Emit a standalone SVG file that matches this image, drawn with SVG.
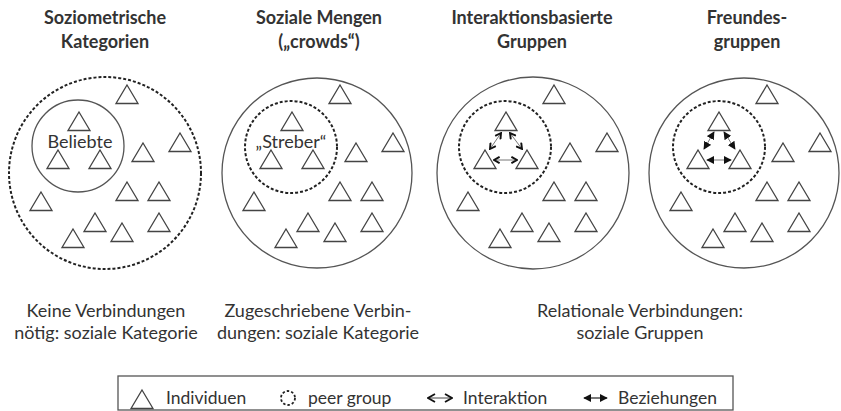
<svg xmlns="http://www.w3.org/2000/svg" xmlns:xlink="http://www.w3.org/1999/xlink" width="841" height="411" viewBox="0 0 841 411">
<style>
  text { font-family: Lato, "Open Sans", "Liberation Sans", sans-serif; fill: #333; }
  .title { font-size: 18px; font-weight: bold; text-anchor: middle; }
  .cap { font-size: 18px; text-anchor: middle; }
  .leg { font-size: 17.5px; }
  .lbl { font-size: 18px; text-anchor: middle; }
  .tri { fill: #fff; stroke: #444; stroke-width: 1.3; }
  .outer { fill: none; stroke: #555; stroke-width: 1.3; }
  .solid { fill: none; stroke: #555; stroke-width: 1.3; }
  .dash { fill: none; stroke: #222; stroke-width: 2; stroke-dasharray: 3 2; }
  .shaft { stroke: #777; stroke-width: 1; fill: none; }
  .ia { marker-start: url(#open); marker-end: url(#open); }
  .bz { marker-start: url(#filled); marker-end: url(#filled); }
</style>
<defs>
  <path id="tri" d="M0,0 L11,18.5 L-11,18.5 Z"/>
  <marker id="open" viewBox="0 0 10 10" refX="9" refY="5" markerWidth="8" markerHeight="8" markerUnits="userSpaceOnUse" orient="auto-start-reverse">
    <path d="M2,1 L9,5 L2,9" fill="none" stroke="#111" stroke-width="2.4"/>
  </marker>
  <marker id="filled" viewBox="0 0 10 10" refX="9" refY="5" markerWidth="8" markerHeight="8" markerUnits="userSpaceOnUse" orient="auto-start-reverse">
    <path d="M0,0 L10,5 L0,10 Z" fill="#111"/>
  </marker>
  <marker id="openL" viewBox="0 0 10 10" refX="9" refY="5" markerWidth="10" markerHeight="10" markerUnits="userSpaceOnUse" orient="auto-start-reverse">
    <path d="M2,1 L9,5 L2,9" fill="none" stroke="#111" stroke-width="1.8"/>
  </marker>
  <marker id="filledL" viewBox="0 0 10 10" refX="9" refY="5" markerWidth="8" markerHeight="8" markerUnits="userSpaceOnUse" orient="auto-start-reverse">
    <path d="M0,0 L10,5 L0,10 Z" fill="#111"/>
  </marker>
  <g id="crowd">
    <use xlink:href="#tri" href="#tri" class="tri" x="127" y="85"/>
    <use xlink:href="#tri" href="#tri" class="tri" x="79" y="112"/>
    <use xlink:href="#tri" href="#tri" class="tri" x="58" y="150"/>
    <use xlink:href="#tri" href="#tri" class="tri" x="100" y="150"/>
    <use xlink:href="#tri" href="#tri" class="tri" x="143" y="143"/>
    <use xlink:href="#tri" href="#tri" class="tri" x="180" y="133"/>
    <use xlink:href="#tri" href="#tri" class="tri" x="127" y="182"/>
    <use xlink:href="#tri" href="#tri" class="tri" x="159" y="182"/>
    <use xlink:href="#tri" href="#tri" class="tri" x="41" y="192"/>
    <use xlink:href="#tri" href="#tri" class="tri" x="95" y="213"/>
    <use xlink:href="#tri" href="#tri" class="tri" x="159" y="213"/>
    <use xlink:href="#tri" href="#tri" class="tri" x="73" y="229"/>
    <use xlink:href="#tri" href="#tri" class="tri" x="122" y="223"/>
  </g>
</defs>
<rect width="841" height="411" fill="#fff"/>

<g id="panel1">
  <text class="title" x="105" y="24">Soziometrische</text>
  <text class="title" x="105" y="48">Kategorien</text>
  <circle class="dash" cx="105" cy="173" r="96"/>
  <circle class="solid" cx="78" cy="146" r="46"/>
  <use xlink:href="#crowd" href="#crowd"/>
  <text class="lbl" x="80" y="148">Beliebte</text>
</g>

<g id="panel2">
  <text class="title" x="319" y="24">Soziale Mengen</text>
  <text class="title" x="319" y="48">(„crowds“)</text>
  <circle class="outer" cx="317" cy="173" r="95"/>
  <circle class="dash" cx="291" cy="147" r="46"/>
  <use xlink:href="#crowd" href="#crowd" x="213"/>
  <text class="lbl" x="291" y="148">„Streber“</text>
</g>

<g id="panel3">
  <text class="title" x="532" y="24">Interaktionsbasierte</text>
  <text class="title" x="532" y="48">Gruppen</text>
  <circle class="outer" cx="533" cy="173" r="96"/>
  <circle class="dash" cx="505" cy="147" r="46"/>
  <use xlink:href="#crowd" href="#crowd" x="427"/>
</g>

<g id="panel4">
  <text class="title" x="747" y="24">Freundes-</text>
  <text class="title" x="747" y="48">gruppen</text>
  <circle class="outer" cx="744" cy="173" r="95"/>
  <circle class="dash" cx="719" cy="147" r="46"/>
  <use xlink:href="#crowd" href="#crowd" x="640"/>
</g>

<g id="connectors">
  <line class="shaft ia" x1="494" y1="160" x2="517" y2="160"/>
  <line class="shaft ia" x1="501" y1="133" x2="490" y2="149"/>
  <line class="shaft ia" x1="510" y1="133" x2="522" y2="149"/>
  <line class="shaft bz" x1="707" y1="160" x2="731" y2="160"/>
  <line class="shaft bz" x1="714" y1="132" x2="704" y2="149"/>
  <line class="shaft bz" x1="724" y1="132" x2="735" y2="149"/>
</g>

<g id="captions">
  <text class="cap" x="106" y="317">Keine Verbindungen</text>
  <text class="cap" x="106" y="339">nötig: soziale Kategorie</text>
  <text class="cap" x="318" y="317">Zugeschriebene Verbin-</text>
  <text class="cap" x="318" y="339">dungen: soziale Kategorie</text>
  <text class="cap" x="640" y="317">Relationale Verbindungen:</text>
  <text class="cap" x="640" y="339">soziale Gruppen</text>
</g>

<g id="legend">
  <rect x="118" y="376" width="615" height="34" fill="#fff" stroke="#555" stroke-width="1.3"/>
  <use xlink:href="#tri" href="#tri" class="tri" x="142" y="390"/>
  <text class="leg" x="166" y="404">Individuen</text>
  <circle cx="288" cy="398" r="7" fill="none" stroke="#222" stroke-width="1.8" stroke-dasharray="2.5 2"/>
  <text class="leg" x="308" y="404">peer group</text>
  <line x1="428" y1="398" x2="452" y2="398" stroke="#444" stroke-width="1" marker-start="url(#openL)" marker-end="url(#openL)"/>
  <text class="leg" x="463" y="404">Interaktion</text>
  <line x1="584" y1="398" x2="607" y2="398" stroke="#222" stroke-width="1.2" marker-start="url(#filledL)" marker-end="url(#filledL)"/>
  <text class="leg" x="618" y="404">Beziehungen</text>
</g>
</svg>
